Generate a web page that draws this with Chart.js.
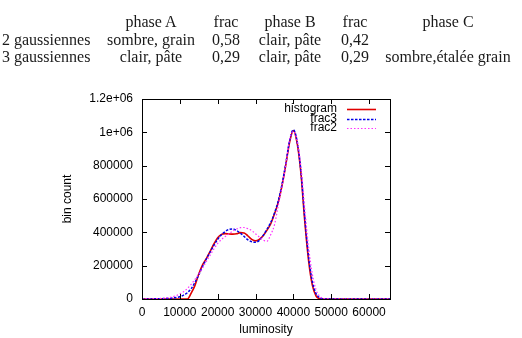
<!DOCTYPE html>
<html>
<head>
<meta charset="utf-8">
<script src="https://cdn.jsdelivr.net/npm/chart.js@4/dist/chart.umd.min.js"></script>
<style>
  body { margin: 0; background: #fff; }
  #wrap { position: relative; width: 522px; height: 338px; }
  #wrap canvas { position: absolute; left: 0; top: 0; }
  .cell { position: absolute; font-family: "Liberation Serif", serif; font-size: 16px; color: #1a1a1a; white-space: nowrap; transform: translate(-50%, -50%); }
  .cell.left { transform: translate(0, -50%); }
</style>
</head>
<body>
<div id="wrap">
  <canvas id="histChart" width="522" height="338"></canvas>
</div>
<script>
// table above the plot
const tableHeader = ['', 'phase A', 'frac', 'phase B', 'frac', 'phase C'];
const tableRows = [
    ['2 gaussiennes', 'sombre, grain', '0,58', 'clair, pâte', '0,42', ''],
    ['3 gaussiennes', 'clair, pâte', '0,29', 'clair, pâte', '0,29', 'sombre,étalée grain']
];

// plot data
const luminosity = [0, 1000, 2000, 3000, 4000, 5000, 6000, 7000, 8000, 9000,
    10000, 11000, 12000, 13000, 14000, 15000, 16000, 17000, 18000, 19000,
    20000, 21000, 22000, 23000, 24000, 25000, 26000, 27000, 28000, 29000,
    30000, 31000, 32000, 33000, 34000, 35000, 36000, 37000, 38000, 39000,
    40000, 41000, 42000, 43000, 44000, 45000, 46000, 47000, 48000, 49000,
    50000, 55000, 60000, 65536];
const histogram = [0, 0, 0, 0, 0, 0, 0, 0, 0, 0,
    0, 0, 0, 35000, 82000, 150000, 205000, 242000, 285000, 330000,
    368000, 388000, 392000, 390000, 389000, 391000, 398000, 396000, 378000, 358000,
    349000, 358000, 380000, 412000, 450000, 510000, 580000, 680000, 805000, 940000,
    1010000, 935000, 755000, 470000, 235000, 85000, 18000, 2000, 0, 0,
    0, 0, 0, 0];
const frac3 = [0, 100, 300, 600, 1000, 1700, 2600, 4000, 6000, 9000,
    14000, 23000, 38000, 62000, 100000, 145000, 195000, 240000, 282000, 322000,
    358000, 385000, 405000, 418000, 420000, 410000, 395000, 375000, 355000, 343000,
    340000, 352000, 380000, 418000, 458000, 515000, 588000, 688000, 812000, 950000,
    1015000, 945000, 765000, 490000, 258000, 105000, 32000, 7000, 1200, 200,
    0, 0, 0, 0];
const frac2 = [200, 400, 800, 1400, 2200, 3500, 5500, 8500, 13000, 20000,
    30000, 44000, 63000, 88000, 118000, 150000, 186000, 225000, 263000, 300000,
    333000, 357000, 375000, 392000, 408000, 420000, 428000, 429000, 422000, 410000,
    392000, 372000, 354000, 346000, 385000, 445000, 560000, 675000, 805000, 955000,
    1005000, 950000, 795000, 545000, 315000, 150000, 55000, 15000, 3500, 600,
    0, 0, 0, 0];
const xTicks = [0, 10000, 20000, 30000, 40000, 50000, 60000];
const yTicks = [0, 200000, 400000, 600000, 800000, 1000000, 1200000];
const yTickLabels = ['0', '200000', '400000', '600000', '800000', '1e+06', '1.2e+06'];

// table columns: x centre of each column, y centre of each row
const colX = [2, 151, 226, 290, 355, 448];
const rowY = [22, 39.5, 57];

const wrap = document.getElementById('wrap');
[tableHeader, ...tableRows].forEach((row, r) => {
    row.forEach((txt, c) => {
        if (!txt) return;
        const el = document.createElement('div');
        el.className = c === 0 ? 'cell left' : 'cell';
        el.style.left = colX[c] + 'px';
        el.style.top = rowY[r] + 'px';
        el.textContent = txt;
        wrap.appendChild(el);
    });
});

const toPoints = ys => luminosity.map((x, i) => ({ x: x, y: ys[i] }));
const sansFont = { family: '"Liberation Sans", Arial, sans-serif', size: 12 };

// gnuplot style frame, inward ticks on all four sides, and legend
const framePlugin = {
    id: 'frame',
    afterDraw(chart) {
        const ctx = chart.ctx;
        const a = chart.chartArea;
        const xs = chart.scales.x, ys = chart.scales.y;
        ctx.save();
        ctx.strokeStyle = '#000';
        ctx.lineWidth = 1;
        ctx.strokeRect(Math.round(a.left) + 0.5, Math.round(a.top) + 0.5,
            Math.round(a.right - a.left), Math.round(a.bottom - a.top));
        ctx.beginPath();
        xs.ticks.forEach(t => {
            const px = Math.round(xs.getPixelForValue(t.value)) + 0.5;
            ctx.moveTo(px, a.bottom); ctx.lineTo(px, a.bottom - 5);
            ctx.moveTo(px, a.top); ctx.lineTo(px, a.top + 5);
        });
        ys.ticks.forEach(t => {
            const py = Math.round(ys.getPixelForValue(t.value)) + 0.5;
            ctx.moveTo(a.left, py); ctx.lineTo(a.left + 5, py);
            ctx.moveTo(a.right, py); ctx.lineTo(a.right - 5, py);
        });
        ctx.stroke();

        // legend
        ctx.font = sansFont.size + 'px ' + sansFont.family;
        ctx.textAlign = 'right';
        ctx.textBaseline = 'middle';
        ctx.fillStyle = '#000';
        const rows = [9.5, 19.5, 29];
        chart.data.datasets.forEach((ds, i) => {
            const y = a.top + rows[i];
            ctx.fillText(ds.label, a.right - 53, y);
            ctx.beginPath();
            ctx.strokeStyle = ds.borderColor;
            ctx.lineWidth = ds.borderWidth;
            ctx.setLineDash(ds.borderDash || []);
            ctx.moveTo(a.right - 43, Math.round(y) + 0.5);
            ctx.lineTo(a.right - 14, Math.round(y) + 0.5);
            ctx.stroke();
        });
        ctx.restore();
    }
};

new Chart(document.getElementById('histChart'), {
    type: 'line',
    data: {
        datasets: [
            {
                label: 'histogram',
                data: toPoints(histogram),
                borderColor: '#e00000',
                borderWidth: 1.6,
                order: 3
            },
            {
                label: 'frac3',
                data: toPoints(frac3),
                borderColor: '#0000e8',
                borderWidth: 1.5,
                borderDash: [2.5, 1.5],
                order: 2
            },
            {
                label: 'frac2',
                data: toPoints(frac2),
                borderColor: '#ff30ff',
                borderWidth: 1.2,
                borderDash: [1.5, 2],
                order: 1
            }
        ]
    },
    options: {
        responsive: false,
        animation: false,
        cubicInterpolationMode: 'monotone',
        elements: { point: { radius: 0 } },
        layout: { padding: { top: 99, right: 132, left: 56, bottom: 0 } },
        plugins: {
            legend: { display: false },
            tooltip: { enabled: false }
        },
        scales: {
            x: {
                type: 'linear',
                min: 0,
                max: 65536,
                grid: { display: false, drawTicks: false },
                border: { display: false },
                afterBuildTicks: scale => { scale.ticks = xTicks.map(v => ({ value: v })); },
                ticks: {
                    maxRotation: 0,
                    autoSkip: false,
                    padding: 6,
                    color: '#000',
                    font: sansFont,
                    callback: v => String(v)
                },
                title: {
                    display: true,
                    text: 'luminosity',
                    color: '#000',
                    font: sansFont,
                    padding: { top: 0, bottom: 1 }
                },
                afterFit: scale => { scale.height = 39; }
            },
            y: {
                min: 0,
                max: 1200000,
                grid: { display: false, drawTicks: false },
                border: { display: false },
                afterBuildTicks: scale => { scale.ticks = yTicks.map(v => ({ value: v })); },
                ticks: {
                    padding: 9,
                    color: '#000',
                    font: sansFont,
                    callback: (v, i) => yTickLabels[i]
                },
                title: {
                    display: true,
                    text: 'bin count',
                    color: '#000',
                    font: sansFont,
                    padding: { top: 4, bottom: 0 }
                },
                afterFit: scale => { scale.width = 86; }
            }
        }
    },
    plugins: [framePlugin]
});
</script>
</body>
</html>
